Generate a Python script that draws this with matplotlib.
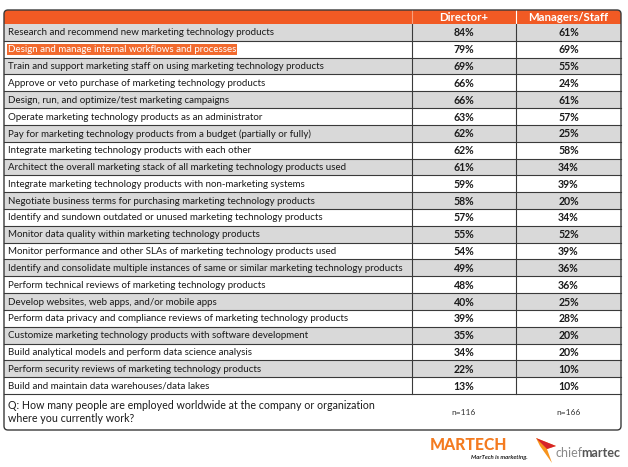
import matplotlib
matplotlib.use("Agg")
import matplotlib.pyplot as plt
from matplotlib.patches import Rectangle, FancyBboxPatch, Polygon

# Data
tasks = [
    "Research and recommend new marketing technology products",
    "Design and manage internal workflows and processes",
    "Train and support marketing staff on using marketing technology products",
    "Approve or veto purchase of marketing technology products",
    "Design, run, and optimize/test marketing campaigns",
    "Operate marketing technology products as an administrator",
    "Pay for marketing technology products from a budget (partially or fully)",
    "Integrate marketing technology products with each other",
    "Architect the overall marketing stack of all marketing technology products used",
    "Integrate marketing technology products with non-marketing systems",
    "Negotiate business terms for purchasing marketing technology products",
    "Identify and sundown outdated or unused marketing technology products",
    "Monitor data quality within marketing technology products",
    "Monitor performance and other SLAs of marketing technology products used",
    "Identify and consolidate multiple instances of same or similar marketing technology products",
    "Perform technical reviews of marketing technology products",
    "Develop websites, web apps, and/or mobile apps",
    "Perform data privacy and compliance reviews of marketing technology products",
    "Customize marketing technology products with software development",
    "Build analytical models and perform data science analysis",
    "Perform security reviews of marketing technology products",
    "Build and maintain data warehouses/data lakes",
]
director = [84, 79, 69, 66, 66, 63, 62, 62, 61, 59, 58, 57, 55, 54, 49, 48, 40, 39, 35, 34, 22, 13]
managers = [61, 69, 55, 24, 61, 57, 25, 58, 34, 39, 20, 34, 52, 39, 36, 36, 25, 28, 20, 20, 10, 10]
columns = ["Director+", "Managers/Staff"]
question = "Q: How many people are employed worldwide at the company or organization\nwhere you currently work?"
sample_sizes = ["n=116", "n=166"]
highlight_row = 1

# Layout (pixels)
W, H = 628, 467
LEFT, RIGHT = 4, 621
TOP, HEAD_BOT = 10, 24
ROW_H = 16.82
COL1, COL2 = 412, 516
ORANGE = "#F15A24"
GRAY = "#D9D9D9"
LINE = "#3a3a3a"

plt.rcParams["font.family"] = ["Lato", "DejaVu Sans"]

fig = plt.figure(figsize=(W / 100, H / 100), dpi=100)
ax = fig.add_axes([0, 0, 1, 1])
ax.set_xlim(0, W)
ax.set_ylim(H, 0)
ax.axis("off")

rows_bot = HEAD_BOT + ROW_H * len(tasks)
TABLE_BOT = 430

border = FancyBboxPatch((LEFT, TOP), RIGHT - LEFT, TABLE_BOT - TOP,
                        boxstyle="round,pad=0,rounding_size=4",
                        facecolor="none", edgecolor=LINE, linewidth=1.0, zorder=5)
ax.add_patch(border)

# header
hdr = Rectangle((LEFT, TOP), RIGHT - LEFT, HEAD_BOT - TOP, facecolor=ORANGE,
                edgecolor="none", zorder=1)
ax.add_patch(hdr)
hdr.set_clip_path(border)
for cx, name in zip([(COL1 + COL2) / 2, (COL2 + RIGHT) / 2], columns):
    ax.text(cx, (TOP + HEAD_BOT) / 2 + 0.5, name, color="white", fontsize=8.2,
            fontweight="bold", ha="center", va="center", zorder=6)
ax.plot([COL1, COL1], [TOP, HEAD_BOT], color="#f7a07e", lw=0.8, zorder=2)
ax.plot([COL2, COL2], [TOP, HEAD_BOT], color="white", lw=0.8, zorder=2)

# rows
FS = 7.05
for i, (task, d, m) in enumerate(zip(tasks, director, managers)):
    y0 = HEAD_BOT + i * ROW_H
    yc = y0 + ROW_H / 2 + 0.5
    if i % 2 == 0:
        ax.add_patch(Rectangle((LEFT, y0), RIGHT - LEFT, ROW_H, facecolor=GRAY,
                               edgecolor="none", zorder=1))
    ax.plot([LEFT, RIGHT], [y0 + ROW_H, y0 + ROW_H], color=LINE, lw=0.8, zorder=3)
    if i == highlight_row:
        ax.text(8, yc, task, fontsize=FS, color="white", ha="left", va="center",
                zorder=6, bbox=dict(facecolor="#F26A2E", edgecolor="none", pad=0.8))
    else:
        ax.text(8, yc, task, fontsize=FS, color="#1a1a1a", ha="left", va="center", zorder=6)
    ax.text((COL1 + COL2) / 2, yc, f"{d}%", fontsize=7.6, fontweight="bold",
            color="#1a1a1a", ha="center", va="center", zorder=6)
    ax.text((COL2 + RIGHT) / 2, yc, f"{m}%", fontsize=7.6, fontweight="bold",
            color="#1a1a1a", ha="center", va="center", zorder=6)

ax.plot([COL1, COL1], [HEAD_BOT, rows_bot], color=LINE, lw=0.8, zorder=3)
ax.plot([COL2, COL2], [HEAD_BOT, rows_bot], color=LINE, lw=0.8, zorder=3)

# question row
qy = (rows_bot + TABLE_BOT) / 2
ax.text(8, qy, question, fontsize=7.7, color="#1a1a1a", ha="left", va="center",
        linespacing=1.2, zorder=6)
for cx, n in zip([(COL1 + COL2) / 2, (COL2 + RIGHT) / 2], sample_sizes):
    ax.text(cx, qy, n, fontsize=6, color="#333333", ha="center", va="center", zorder=6)

# logos
ax.text(430, 445, "MARTECH", fontsize=11.3, fontweight="black", color="#F47B20",
        ha="left", va="center", zorder=6)
ax.text(528, 457, "MarTech is marketing.", fontsize=4.3, style="italic",
        fontweight="bold", color="#222222", ha="right", va="center", zorder=6)
ax.add_patch(Polygon([[536, 438], [556, 446], [547, 449], [552, 463], [540, 446]],
                     closed=True, facecolor="#F7941D", edgecolor="none", zorder=6))
ax.add_patch(Polygon([[536, 438], [556, 446], [547, 449]],
                     closed=True, facecolor="#D6232A", edgecolor="none", zorder=7))
ax.text(583, 453, "chief", fontsize=9, color="#8a8a8a", ha="right", va="center", zorder=6)
ax.text(581, 453, "martec", fontsize=9, fontweight="bold", color="#555555",
        ha="left", va="center", zorder=6)

fig.savefig("out.png", dpi=100, facecolor="white")
